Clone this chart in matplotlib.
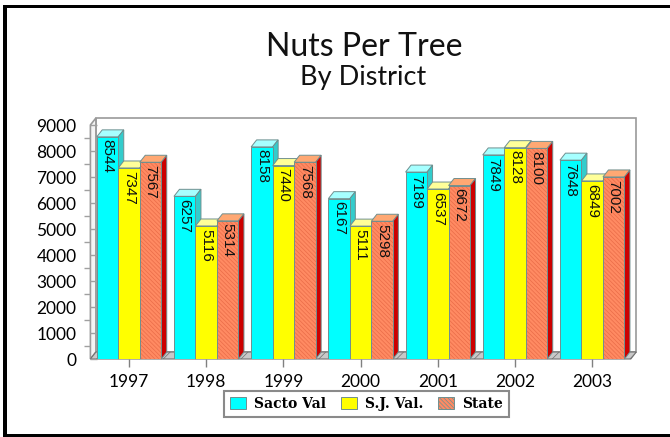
import matplotlib
matplotlib.use('Agg')
import matplotlib.pyplot as plt
from matplotlib.patches import Patch, Polygon, Rectangle
import numpy as np

plt.rcParams['font.family'] = ['Lato', 'DejaVu Sans']
plt.rcParams['hatch.linewidth'] = 0.5

years = ['1997', '1998', '1999', '2000', '2001', '2002', '2003']
sacto = [8544, 6257, 8158, 6167, 7189, 7849, 7648]
sj = [7347, 5116, 7440, 5111, 6537, 8128, 6849]
state = [7567, 5314, 7568, 5298, 6672, 8100, 7002]
yticks = [0, 1000, 2000, 3000, 4000, 5000, 6000, 7000, 8000, 9000]

W, H = 670, 437
fig = plt.figure(figsize=(W / 100, H / 100), dpi=100)
ax = fig.add_axes([90.4 / W, (H - 359) / H, 540.4 / W, 234 / H])
ax.set_xlim(-0.5, 6.5)
ax.set_ylim(0, 9000)
for s in ax.spines.values():
    s.set_visible(False)
ax.patch.set_visible(False)

# fake 3d depth, in data units
dx = 5.5 / 77.2
dy = 7 / 26 * 1000
w = 21.5 / 77.2
grey = '#9a9a9a'
edge = '#6f8f8f'


def poly(pts, fc, ec=edge, lw=0.7, z=3, **kw):
    p = Polygon(pts, closed=True, facecolor=fc, edgecolor=ec, linewidth=lw,
                zorder=z, clip_on=False, **kw)
    ax.add_patch(p)


# walls and floor
x0, x1 = -0.5, 6.5
poly([(x0 + dx, dy), (x1 + dx, dy), (x1 + dx, 9000 + dy), (x0 + dx, 9000 + dy)], 'white', grey, 1.2, 1)
poly([(x0, 0), (x0 + dx, dy), (x0 + dx, 9000 + dy), (x0, 9000)], '#f4f4f4', grey, 1.2, 1)
poly([(x0, 0), (x1, 0), (x1 + dx, dy), (x0 + dx, dy)], '#c8c8c8', '#707070', 0.8, 1, hatch='///')

series = [
    (sacto, '#00ffff', '#a6ffff', '#33cccc', None),
    (sj, '#ffff00', '#ffff99', '#cccc00', None),
    (state, '#ff8a62', '#ffa873', '#cc0000', '\\\\\\\\\\\\\\\\'),
]
x = np.arange(len(years))
for i in x:
    for j, (vals, fc, top, side, hatch) in enumerate(series):
        v = vals[i]
        left = i + (j - 1.5) * w
        right = left + w
        z = 3 + j * 0.1
        poly([(left, v), (right, v), (right + dx, v + dy), (left + dx, v + dy)], top, z=z)
        poly([(right, 0), (right + dx, dy), (right + dx, v + dy), (right, v)], side, z=z)
        if hatch:
            ax.bar(left, v, w, align='edge', color=fc, edgecolor='#ea6c48', hatch=hatch, linewidth=0, zorder=z)
            ax.bar(left, v, w, align='edge', fill=False, edgecolor=edge, linewidth=0.7, zorder=z)
        else:
            ax.bar(left, v, w, align='edge', color=fc, edgecolor=edge, linewidth=0.7, zorder=z)
        ax.text(left + w / 2, v - 100, str(v), rotation=-90, ha='center', va='top', fontsize=11,
                family=['Liberation Sans Narrow', 'Liberation Sans'], color='#111111', zorder=5)

ax.set_xticks(x)
ax.set_xticklabels(years, fontsize=12.5)
ax.set_yticks(yticks)
ax.set_yticklabels([str(t) for t in yticks], fontsize=12.5)
ax.set_yticks(np.array(yticks[:-1]) + 500, minor=True)
ax.tick_params(axis='x', length=6, width=1, color='#808080', pad=5)
ax.tick_params(axis='y', which='major', direction='in', length=5, width=1, color='#a0a0a0', pad=10)
ax.tick_params(axis='y', which='minor', direction='out', length=4, width=1, color='#a0a0a0')
for t in ax.get_yticklines():
    t.set_zorder(2)

fig.text(364.5 / W, 1 - 47 / H, 'Nuts Per Tree', ha='center', va='center', fontsize=23, color='#111111')
fig.text(363.5 / W, 1 - 78 / H, 'By District', ha='center', va='center', fontsize=19.5, color='#111111')

handles = [Patch(facecolor=s[1], edgecolor=edge, hatch=s[4], linewidth=0.7) for s in series]
leg = fig.legend(handles, ['Sacto Val', 'S.J. Val.', 'State'], ncol=3, loc='center',
                 bbox_to_anchor=(366.5 / W, 1 - 404 / H), fancybox=False, framealpha=1,
                 edgecolor='#8a8a8a', prop={'family': 'DejaVu Serif', 'weight': 'bold', 'size': 10},
                 handlelength=1.15, handleheight=1.0, handletextpad=0.6, columnspacing=1.05,
                 borderpad=0.4, borderaxespad=0)
leg.get_frame().set_linewidth(1.5)

# black border on the top, left and bottom of the picture
for r in [(3, 5, W - 3, 3), (3, 5, 3.5, H - 5), (3, H - 3, W - 3, 3)]:
    fig.add_artist(Rectangle((r[0] / W, 1 - (r[1] + r[3]) / H), r[2] / W, r[3] / H,
                             transform=fig.transFigure, facecolor='black', edgecolor='none'))

fig.savefig('out.png', dpi=100)
